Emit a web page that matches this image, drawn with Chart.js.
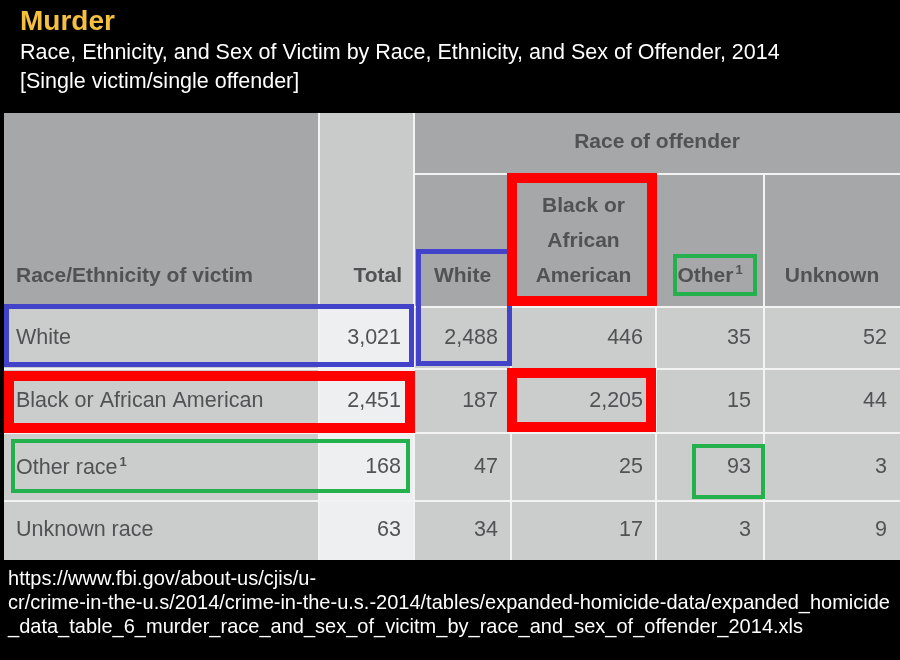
<!DOCTYPE html>
<html>
<head>
<meta charset="utf-8">
<title>Murder - Race of victim by race of offender, 2014</title>
<script src="https://cdn.jsdelivr.net/npm/chart.js@4.4.1/dist/chart.umd.min.js"></script>
<style>
  html, body { margin: 0; padding: 0; background: #000; }
  #wrap { width: 900px; height: 660px; }
</style>
</head>
<body>
<div id="wrap"><canvas id="tabla" width="900" height="660"></canvas></div>
<script>
// Datos de la tabla
const titulo = 'Murder';
const subtitulo = ['Race, Ethnicity, and Sex of Victim by Race, Ethnicity, and Sex of Offender, 2014',
                   '[Single victim/single offender]'];
const victimRaces = ['White', 'Black or African American', 'Other race', 'Unknown race'];
const offenderRaces = ['White', 'Black or African American', 'Other', 'Unknown'];
const totals = [3021, 2451, 168, 63];
const byWhite = [2488, 187, 47, 34];
const byBlack = [446, 2205, 25, 17];
const byOther = [35, 15, 93, 3];
const byUnknown = [52, 44, 3, 9];
const fuente = ['https://www.fbi.gov/about-us/cjis/u-',
                'cr/crime-in-the-u.s/2014/crime-in-the-u.s.-2014/tables/expanded-homicide-data/expanded_homicide',
                '_data_table_6_murder_race_and_sex_of_vicitm_by_race_and_sex_of_offender_2014.xls'];

// Layout (unidades = pixeles del lienzo, pasados por las escalas)
const colEdges = [4, 319, 414, 511, 656, 764, 900];
const headTop = 113, headMid = 174, headBottom = 307;
const rowEdges = [307, 369, 433, 501, 560];
const cellPad = 13;
const FONT = '"Liberation Sans", Arial, sans-serif';
const textColor = '#505253';

const columns = [totals, byWhite, byBlack, byOther, byUnknown];
const cellPoints = [];
victimRaces.forEach((r, i) => {
    columns.forEach((col, c) => {
        cellPoints.push({
            x: colEdges[c + 2] - cellPad,
            y: (rowEdges[i] + rowEdges[i + 1]) / 2,
            v: col[i]
        });
    });
});

// Marcos de colores resaltados
const highlights = [
    { color: '#4343c9', width: 5, x0: 6.5, y0: 306.5, x1: 411.5, y1: 364.5 },
    { color: '#4343c9', width: 5, x0: 418.5, y0: 251.5, x1: 509.5, y1: 363.5 },
    { color: '#ff0000', width: 10, x0: 512, y0: 178, x1: 652, y1: 301 },
    { color: '#ff0000', width: 10, x0: 9, y0: 376, x1: 410, y1: 428 },
    { color: '#ff0000', width: 10, x0: 512, y0: 373, x1: 651, y1: 427 },
    { color: '#22b14c', width: 4, x0: 675, y0: 256, x1: 755, y1: 294 },
    { color: '#22b14c', width: 4, x0: 13, y0: 441, x1: 408, y1: 491 },
    { color: '#22b14c', width: 4, x0: 694, y0: 446, x1: 763, y1: 497 }
];

function withSup(ctx, text, x, y, align, bold, size) {
    // texto con superindice "1" al final
    ctx.font = (bold ? 'bold ' : '') + size + 'px ' + FONT;
    const w1 = ctx.measureText(text).width;
    ctx.font = 'bold 13px ' + FONT;
    const w2 = ctx.measureText('1').width + 2;
    let start = x;
    if (align === 'center') start = x - (w1 + w2) / 2;
    ctx.textAlign = 'left';
    ctx.font = (bold ? 'bold ' : '') + size + 'px ' + FONT;
    ctx.fillText(text, start, y);
    ctx.font = 'bold 13px ' + FONT;
    ctx.fillText('1', start + w1 + 2, y - 6);
}

const tablePlugin = {
    id: 'tablePlugin',
    beforeDatasetsDraw(chart) {
        const ctx = chart.ctx;
        const sx = chart.scales.x, sy = chart.scales.y;
        const px = v => sx.getPixelForValue(v);
        const py = v => sy.getPixelForValue(v);
        const left = colEdges[0], right = colEdges[colEdges.length - 1];
        const bottom = rowEdges[rowEdges.length - 1];

        ctx.save();
        // fondo negro
        ctx.fillStyle = '#000';
        ctx.fillRect(0, 0, chart.width, chart.height);
        // fondo blanco de la tabla (lineas)
        ctx.fillStyle = '#f3f3f3';
        ctx.fillRect(px(left), py(headTop), px(right) - px(left), py(bottom) - py(headTop));

        function cell(x0, y0, x1, y1, color) {
            const a = x0 === left ? 0 : 1, b = x1 === right ? 0 : 1;
            const c = y0 === headTop ? 0 : 1, d = y1 === bottom ? 0 : 1;
            ctx.fillStyle = color;
            ctx.fillRect(px(x0) + a, py(y0) + c, px(x1) - px(x0) - a - b, py(y1) - py(y0) - c - d);
        }

        // encabezados
        cell(colEdges[0], headTop, colEdges[1], headBottom, '#a5a7a8');
        cell(colEdges[1], headTop, colEdges[2], headBottom, '#c9cbcb');
        cell(colEdges[2], headTop, right, headMid, '#a5a7a8');
        for (let c = 2; c < colEdges.length - 1; c++) {
            cell(colEdges[c], headMid, colEdges[c + 1], headBottom, '#a5a7a8');
        }
        // celdas de datos
        for (let r = 0; r < victimRaces.length; r++) {
            cell(colEdges[0], rowEdges[r], colEdges[1], rowEdges[r + 1], '#cbcccc');
            cell(colEdges[1], rowEdges[r], colEdges[2], rowEdges[r + 1], '#eeeff0');
            for (let c = 2; c < colEdges.length - 1; c++) {
                cell(colEdges[c], rowEdges[r], colEdges[c + 1], rowEdges[r + 1], '#cbcccc');
            }
        }

        // titulo
        ctx.textBaseline = 'alphabetic';
        ctx.textAlign = 'left';
        ctx.fillStyle = '#f4c03e';
        ctx.font = 'bold 28px ' + FONT;
        ctx.fillText(titulo, px(20), py(30));
        ctx.fillStyle = '#ffffff';
        ctx.font = '21.5px ' + FONT;
        ctx.fillText(subtitulo[0], px(20), py(59));
        ctx.fillText(subtitulo[1], px(20), py(88));

        // textos de encabezado
        ctx.fillStyle = textColor;
        ctx.textBaseline = 'middle';
        ctx.font = 'bold 21px ' + FONT;
        ctx.textAlign = 'left';
        ctx.fillText('Race/Ethnicity of victim', px(16), py(276));
        ctx.textAlign = 'right';
        ctx.fillText('Total', px(colEdges[2] - 12), py(276));
        ctx.textAlign = 'center';
        ctx.fillText('Race of offender', px((colEdges[2] + right) / 2), py(142));

        const headLines = [['White'], ['Black or', 'African', 'American'], ['Other'], ['Unknown']];
        offenderRaces.forEach((name, i) => {
            const cx = px((colEdges[i + 2] + colEdges[i + 3]) / 2);
            const lines = headLines[i];
            if (name === 'Other') {
                withSup(ctx, name, cx, py(276), 'center', true, 21);
                return;
            }
            lines.forEach((ln, k) => {
                ctx.textAlign = 'center';
                ctx.font = 'bold 21px ' + FONT;
                ctx.fillText(ln, cx, py(276 - (lines.length - 1 - k) * 35));
            });
        });

        // etiquetas de fila
        victimRaces.forEach((name, i) => {
            const cy = py((rowEdges[i] + rowEdges[i + 1]) / 2);
            ctx.textAlign = 'left';
            if (name === 'Other race') {
                withSup(ctx, name, px(16), cy + 1, 'left', false, 21.5);
            } else {
                ctx.font = '21.5px ' + FONT;
                ctx.fillText(name, px(16), cy);
            }
        });

        // fuente
        ctx.fillStyle = '#ffffff';
        ctx.textAlign = 'left';
        ctx.textBaseline = 'alphabetic';
        ctx.font = '21px ' + FONT;
        const ancho = ctx.measureText(fuente[1]).width;
        const esc = (px(890) - px(8)) / ancho;
        fuente.forEach((ln, k) => {
            ctx.save();
            ctx.translate(px(8), py(585 + k * 24));
            ctx.scale(esc, 1);
            ctx.fillText(ln, 0, 0);
            ctx.restore();
        });
        ctx.restore();
    },
    afterDatasetsDraw(chart) {
        const ctx = chart.ctx;
        const sx = chart.scales.x, sy = chart.scales.y;
        const meta = chart.getDatasetMeta(0);
        ctx.save();
        // valores numericos
        ctx.fillStyle = textColor;
        ctx.font = '21.5px ' + FONT;
        ctx.textAlign = 'right';
        ctx.textBaseline = 'middle';
        meta.data.forEach((pt, i) => {
            const v = chart.data.datasets[0].data[i].v;
            ctx.fillText(v.toLocaleString('en-US'), pt.x, pt.y);
        });
        // marcos
        highlights.forEach(h => {
            ctx.strokeStyle = h.color;
            ctx.lineWidth = h.width;
            const x0 = sx.getPixelForValue(h.x0), x1 = sx.getPixelForValue(h.x1);
            const y0 = sy.getPixelForValue(h.y0), y1 = sy.getPixelForValue(h.y1);
            ctx.strokeRect(x0, y0, x1 - x0, y1 - y0);
        });
        ctx.restore();
    }
};

window.addEventListener('DOMContentLoaded', function () {
    const ctx = document.getElementById('tabla').getContext('2d');
    new Chart(ctx, {
        type: 'scatter',
        data: {
            datasets: [{
                label: 'Victims by race of offender',
                data: cellPoints,
                pointRadius: 0,
                pointHoverRadius: 0,
                backgroundColor: 'rgba(0,0,0,0)',
                borderColor: 'rgba(0,0,0,0)'
            }]
        },
        options: {
            responsive: false,
            animation: false,
            devicePixelRatio: 1,
            events: [],
            layout: { padding: 0 },
            plugins: {
                legend: { display: false },
                tooltip: { enabled: false }
            },
            scales: {
                x: { type: 'linear', min: 0, max: 900, display: false },
                y: { type: 'linear', min: 0, max: 660, reverse: true, display: false }
            }
        },
        plugins: [tablePlugin]
    });
});
</script>
</body>
</html>
